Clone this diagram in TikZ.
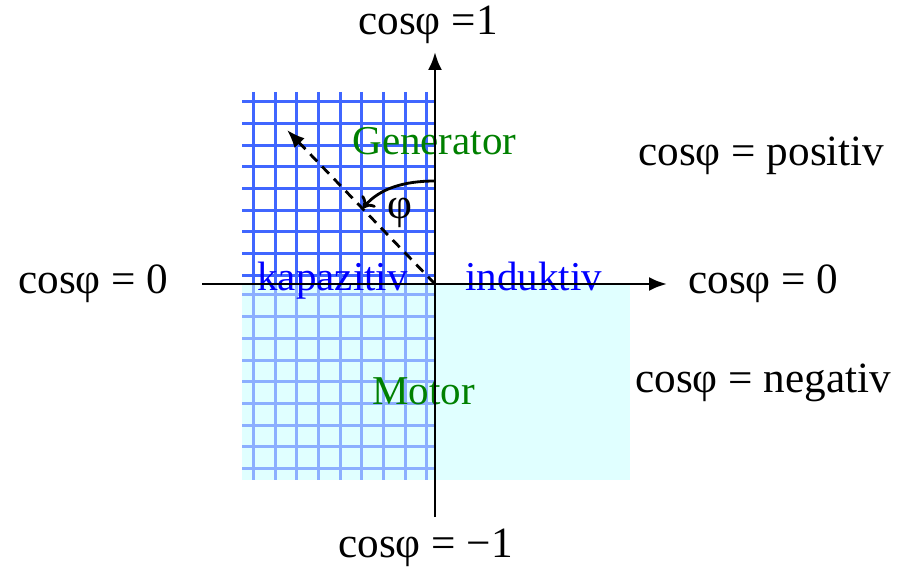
\documentclass[tikz,border=0pt]{standalone}
\usepackage{fontspec}
\setmainfont{Liberation Serif}
\usetikzlibrary{arrows.meta}

\definecolor{gridblue}{RGB}{64,102,255}
\definecolor{gridlight}{RGB}{140,175,255}
\definecolor{quadcyan}{RGB}{224,255,255}
\definecolor{labelgreen}{RGB}{0,128,0}

\begin{document}
\begin{tikzpicture}[x=0.5pt, y=-0.5pt,
        every node/.style={inner sep=0pt, anchor=base west, font=\fontsize{21.6}{26}\selectfont},
        axis/.style={line width=1.4pt, -{Latex[length=9pt, width=7pt]}},
        gridline/.style={line width=1.5pt, draw=gridblue},
        lightline/.style={line width=1.5pt, draw=gridlight},
        quadrant/.style={blue, font=\fontsize{20.5}{24}\selectfont},
        mode/.style={labelgreen, font=\fontsize{20.5}{24}\selectfont}]
        \useasboundingbox (0,0) rectangle (901,567);
        \fill[quadcyan] (242,285) rectangle (630,480);
        \foreach \i in {0,...,8} {
          \draw[gridline] (253.3+21.7*\i,92) -- (253.3+21.7*\i,285);
          \draw[gridline] (242,101.7+21.7*\i) -- (435,101.7+21.7*\i);
          \draw[lightline] (253.3+21.7*\i,285) -- (253.3+21.7*\i,480);
          \draw[lightline] (242,295+21.7*\i) -- (435,295+21.7*\i);
        }
        \coordinate (origin) at (435,284);
        \coordinate (top) at (435,52);
        \coordinate (bottom) at (435,517);
        \coordinate (left) at (202,284);
        \coordinate (right) at (667,284);
        \coordinate (phi end) at (287,130);
        \coordinate (arc start) at (435,181);
        \coordinate (arc end) at (363,208);
        \node[mode] (gen) at (352,155) {Generator};
        \node[mode] (mot) at (372,404) {Motor};
        \node[quadrant] (kap) at (257,291) {kapazitiv};
        \node[quadrant] (ind) at (465,291) {induktiv};
        \draw[axis] (bottom) -- (top);
        \draw[axis] (left) -- (right);
        \draw[line width=1.4pt, dash pattern=on 5pt off 3.5pt, -{Latex[length=9pt, width=7pt]}] (origin) -- (phi end);
        \draw[line width=1.4pt, -{To[length=5pt, width=9pt]}] (arc start) .. controls (405,181) and (380,188) .. (arc end);
        \node (phi) at (387,219) {φ};
        \node (c1) at (358,35) {cosφ =1};
        \node (cm1) at (338,557) {cosφ = −1};
        \node (c0l) at (18,293) {cosφ = 0};
        \node (c0r) at (688,293) {cosφ = 0};
        \node (cpos) at (638,166) {cosφ = positiv};
        \node (cneg) at (635,393) {cosφ = negativ};
      \end{tikzpicture}
\end{document}
